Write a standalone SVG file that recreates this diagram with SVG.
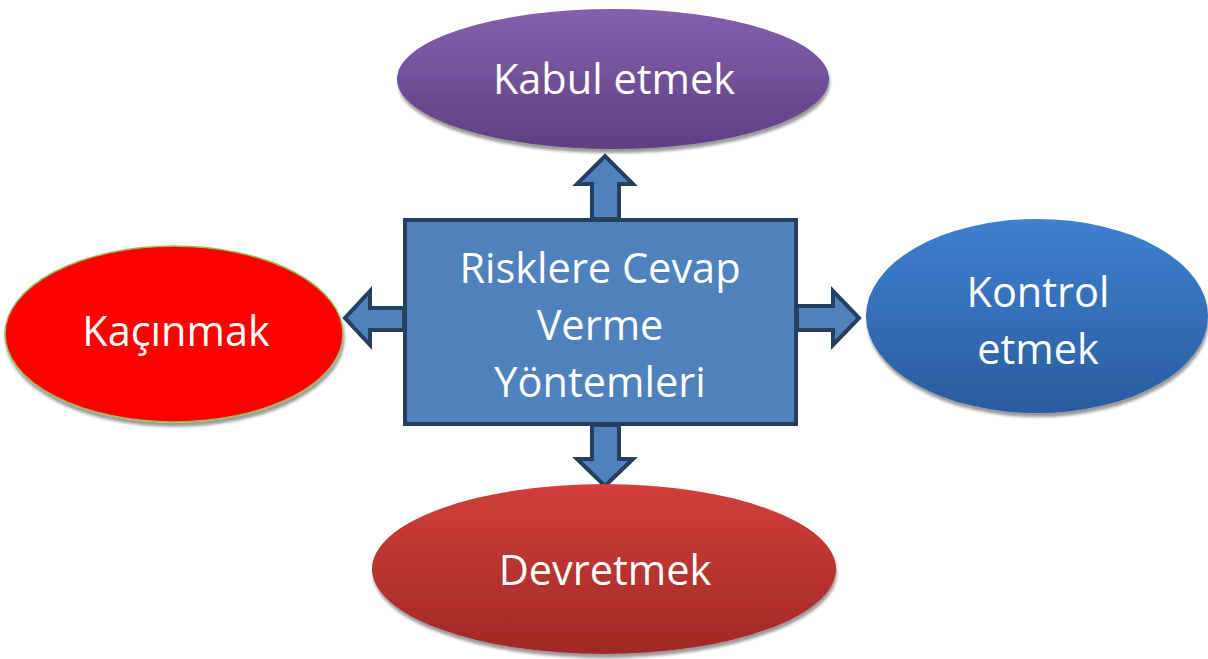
<svg xmlns="http://www.w3.org/2000/svg" width="1208" height="659" viewBox="0 0 1208 659">
<defs>
<linearGradient id="gPurple" x1="0" y1="0" x2="0" y2="1"><stop offset="0" stop-color="#8361AD"/><stop offset="1" stop-color="#5F3F82"/></linearGradient>
<linearGradient id="gBlue" x1="0" y1="0" x2="0" y2="1"><stop offset="0" stop-color="#3E80D1"/><stop offset="1" stop-color="#2A5C9E"/></linearGradient>
<linearGradient id="gRed" x1="0" y1="0" x2="0" y2="1"><stop offset="0" stop-color="#D13F3B"/><stop offset="1" stop-color="#A12826"/></linearGradient>
<filter id="sh" x="-10%" y="-10%" width="120%" height="130%"><feGaussianBlur in="SourceAlpha" stdDeviation="1.5"/><feOffset dx="1" dy="4"/><feComponentTransfer><feFuncA type="linear" slope="0.4"/></feComponentTransfer><feMerge><feMergeNode/><feMergeNode in="SourceGraphic"/></feMerge></filter>
</defs>
<style>
.t{font-family:"Open Sans","Noto Sans",sans-serif;fill:#fff;font-size:41.5px;text-anchor:middle}
.arr{fill:#4F81BD;stroke:#243F60;stroke-width:4;stroke-linejoin:miter}
</style>
<rect width="1208" height="659" fill="#fff"/>
<g id="connectors">
<polygon class="arr" points="592,219 592,184 577,184 605,156 633,184 619,184 619,219"/>
<polygon class="arr" points="404,308 370,308 370,291 345,318 370,345 370,330 404,330"/>
<polygon class="arr" points="797,306 833,306 833,291 859,318 833,345 833,330 797,330"/>
<polygon class="arr" points="592,425 592,459 577,459 605,486 633,459 619,459 619,425"/>
</g>
<g id="kabul">
<ellipse cx="613" cy="79" rx="216" ry="70" fill="url(#gPurple)" filter="url(#sh)"/>
<text class="t" x="614" y="94">Kabul etmek</text>
</g>
<g id="kacinmak">
<ellipse cx="174" cy="334" rx="169" ry="88" fill="#FF0000" stroke="#9BBB59" stroke-width="1.5" filter="url(#sh)"/>
<text class="t" x="176" y="346">Kaçınmak</text>
</g>
<g id="kontrol">
<ellipse cx="1037" cy="316" rx="171" ry="97" fill="url(#gBlue)" filter="url(#sh)"/>
<text class="t" x="1038" y="307">Kontrol</text>
<text class="t" x="1038" y="364">etmek</text>
</g>
<g id="devretmek">
<ellipse cx="604" cy="569" rx="232" ry="85" fill="url(#gRed)" filter="url(#sh)"/>
<text class="t" x="605" y="585">Devretmek</text>
</g>
<g id="center">
<rect x="405" y="220" width="391" height="204" fill="#4F81BD" stroke="#243F60" stroke-width="4"/>
<text class="t" x="600" y="283">Risklere Cevap</text>
<text class="t" x="600" y="340">Verme</text>
<text class="t" x="600" y="397">Yöntemleri</text>
</g>
</svg>
